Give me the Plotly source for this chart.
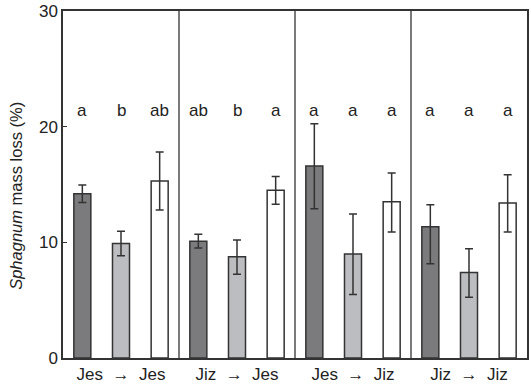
import plotly.graph_objects as go

groups = ["Jes  →  Jes", "Jiz  →  Jes", "Jes  →  Jiz", "Jiz  →  Jiz"]
values = [14.2, 9.9, 15.3, 10.1, 8.75, 14.5, 16.6, 9.0, 13.5, 11.35, 7.4, 13.4]
err_plus = [0.75, 1.05, 2.5, 0.6, 1.45, 1.2, 3.65, 3.45, 2.5, 1.9, 2.05, 2.45]
err_minus = [0.75, 1.05, 2.5, 0.6, 1.5, 1.2, 3.7, 3.5, 2.6, 3.2, 2.15, 2.5]
letters = ["a", "b", "ab", "ab", "b", "a", "a", "a", "a", "a", "a", "a"]
bar_colors = ["#7b7b7e", "#bcbdc0", "#ffffff"] * 4
y_title = "<i>Sphagnum</i> mass loss (%)"

xs = list(range(len(values)))
fig = go.Figure()
fig.add_trace(go.Bar(
    x=xs, y=values, width=0.44,
    marker=dict(color=bar_colors, line=dict(color="#333333", width=1.5)),
    error_y=dict(type="data", symmetric=False, array=err_plus, arrayminus=err_minus,
                 color="#333333", thickness=1.5, width=4),
))

for i, t in enumerate(letters):
    fig.add_annotation(x=i, y=21.4, text=t, showarrow=False,
                       font=dict(size=17, color="#222222"))

fig.add_annotation(xref="paper", yref="paper", x=-0.103, y=0.468, text=y_title,
                   textangle=-90, showarrow=False, xanchor="center", yanchor="middle",
                   font=dict(size=16.5, color="#222222"))

for sep in [2.5, 5.5, 8.5]:
    fig.add_shape(type="line", x0=sep, x1=sep, y0=0, y1=30, xref="x", yref="y",
                  line=dict(color="#333333", width=1.3))

fig.update_layout(
    width=531, height=387,
    margin=dict(l=63, r=2, t=10, b=29),
    paper_bgcolor="white", plot_bgcolor="white",
    showlegend=False,
    font=dict(family="Liberation Sans, Arial, sans-serif", size=17, color="#222222"),
    xaxis=dict(range=[-0.5, 11.5], tickvals=[1, 4, 7, 10], ticktext=groups,
               showline=True, linecolor="#333333", linewidth=1.5, mirror=True,
               ticks="", showgrid=False, zeroline=False, tickfont=dict(size=17)),
    yaxis=dict(range=[0, 30], tickvals=[0, 10, 20, 30],
               showline=True, linecolor="#333333", linewidth=1.5, mirror=True,
               ticks="inside", ticklen=4, tickcolor="#333333", tickwidth=1,
               showgrid=False, zeroline=False, tickfont=dict(size=17)),
)

fig.write_html("out.html")
